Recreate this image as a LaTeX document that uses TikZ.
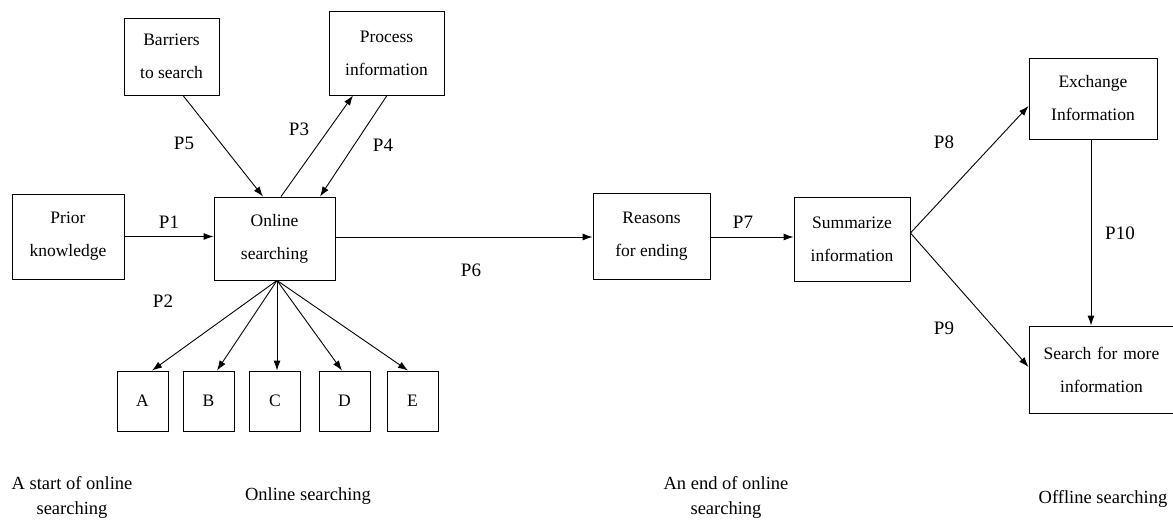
\documentclass[tikz,border=0pt]{standalone}
\usepackage{fontspec}
\setmainfont{Liberation Serif}
\usetikzlibrary{arrows.meta,calc}
\begin{document}
\begin{tikzpicture}[x=1pt,y=-1pt,
  box/.style={draw,line width=0.9pt,inner sep=0pt,align=center,
    font=\fontsize{17.5}{33}\selectfont},
  lbl/.style={inner sep=0pt,font=\fontsize{19}{20}\selectfont},
  stagecap/.style={inner sep=0pt,align=center,font=\fontsize{18.5}{25}\selectfont},
  arr/.style={line width=0.9pt,-{Latex[length=10pt,width=7pt]}}]
\useasboundingbox (0,0) rectangle (1173,528);
% boxes
\node[box,minimum width=112pt,minimum height=85pt] (prior) at (68,236.5) {Prior\\knowledge};
\node[box,minimum width=95pt,minimum height=77pt] (barriers) at (171.5,56.5) {Barriers\\to search};
\node[box,minimum width=115pt,minimum height=84pt] (process) at (386.5,53) {Process\\information};
\node[box,minimum width=121pt,minimum height=83pt] (online) at (274.5,238.5) {Online\\searching};
\node[box,minimum width=51pt,minimum height=60pt] (A) at (142.5,401) {A};
\node[box,minimum width=51pt,minimum height=60pt] (B) at (208.5,401) {B};
\node[box,minimum width=51pt,minimum height=60pt] (C) at (275,401) {C};
\node[box,minimum width=51pt,minimum height=60pt] (D) at (344.5,401) {D};
\node[box,minimum width=51pt,minimum height=60pt] (E) at (412.5,401) {E};
\node[box,minimum width=117pt,minimum height=86pt] (reasons) at (651.5,236) {Reasons\\for ending};
\node[box,minimum width=116pt,minimum height=84pt] (summ) at (852,239) {Summarize\\information};
\node[box,minimum width=128pt,minimum height=81pt] (exch) at (1093,98.5) {Exchange\\Information};
\node[box,minimum width=145pt,minimum height=87pt,text width=145pt] (more) at (1101.5,369.5) {Search for more\\information};
% connectors
\coordinate (fan) at ($(online.south)+(2.5,0)$);
\coordinate (o6) at ($(online.east)+(0,-1.5)$);
\coordinate (r7) at ($(reasons.east)+(0,1)$);
\coordinate (x10) at ($(exch.south)+(-2,0)$);
\coordinate (split) at ($(summ.east)+(0,-6)$);
\draw[arr] (prior.east) -- (prior.east -| online.west);
\draw[arr] ($(barriers.south)+(11.5,0)$) -- ($(online.north)+(-11.5,0)$);
\draw[arr] ($(online.north)+(6.5,0)$) -- ($(process.south)+(-33.5,0)$);
\draw[arr] ($(process.south)+(0.5,0)$) -- ($(online.north)+(45.5,0)$);
\draw[arr] (fan) -- ($(A.north)+(9.5,0)$);
\draw[arr] (fan) -- ($(B.north)+(8.5,0)$);
\draw[arr] (fan) -- ($(C.north)+(2,0)$);
\draw[arr] (fan) -- ($(D.north)+(-2.5,0)$);
\draw[arr] (fan) -- ($(E.north)+(-4.5,0)$);
\draw[arr] (o6) -- (o6 -| reasons.west);
\draw[arr] (r7) -- (r7 -| summ.west);
\draw[arr] (split) -- ($(exch.west)+(0,7.5)$);
\draw[arr] (split) -- ($(more.west)+(0,-2.5)$);
\draw[arr] (x10) -- (x10 |- more.north);
% path labels
\node[lbl] (p1) at (169,222) {P1};
\node[lbl] (p2) at (163,301) {P2};
\node[lbl] (p3) at (299,129) {P3};
\node[lbl] (p4) at (383,145) {P4};
\node[lbl] (p5) at (184,143) {P5};
\node[lbl] (p6) at (471,270) {P6};
\node[lbl] (p7) at (743,222) {P7};
\node[lbl] (p8) at (944,142) {P8};
\node[lbl] (p9) at (944,328) {P9};
\node[lbl] (p10) at (1120,233) {P10};
% stage captions
\node[stagecap] (c1) at (72,497.5) {A start of online\\searching};
\node[stagecap] (c2) at (308,496) {Online searching};
\node[stagecap] (c3) at (726,497.5) {An end of online\\searching};
\node[stagecap] (c4) at (1103,499) {Offline searching};
\end{tikzpicture}
\end{document}
